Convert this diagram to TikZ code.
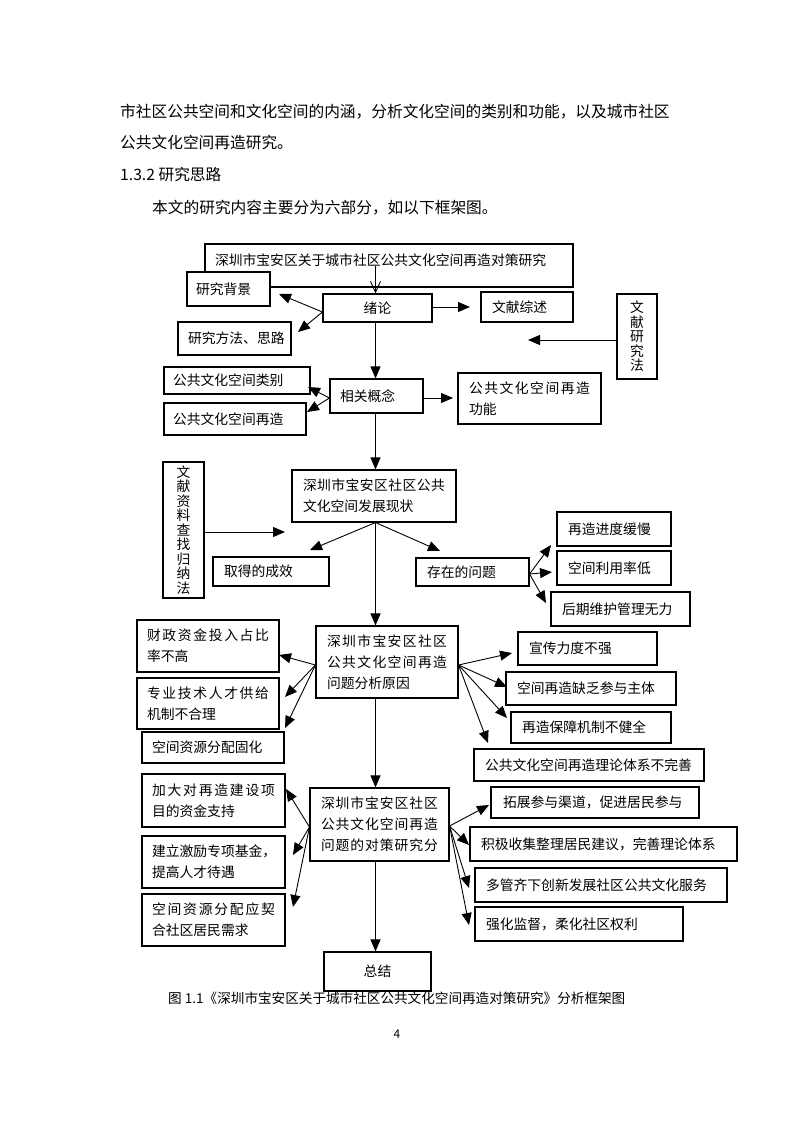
\documentclass[tikz,border=0pt]{standalone}
\usepackage{fontspec}
\newfontfamily\cjk{Noto Sans CJK SC}
\usetikzlibrary{arrows.meta}
\let\spreadend\relax
\def\spreadline#1{\leavevmode\hbox to\hsize{\spreadfirst#1\spreadend}}
\def\spreadfirst#1{#1\spreadloop}
\def\spreadloop#1{\ifx#1\spreadend\else\hfil#1\expandafter\spreadloop\fi}
\newcommand\dgf{\cjk\fontsize{13.8}{21}\selectfont}
\newcommand\vtf{\cjk\fontsize{13.8}{14.5}\selectfont}
\newcommand\bodyf{\cjk\fontsize{15.7}{20}\selectfont}
\newcommand\capf{\cjk\fontsize{13.6}{16}\selectfont}
\tikzset{
  box/.style={draw, line width=1.1pt, fill=white, align=left, font=\dgf, inner ysep=0pt},
  arr/.style={-{Triangle[length=12pt,width=10pt]}, line width=0.9pt},
  barb/.style={-{Straight Barb[length=11pt,width=10pt]}, line width=0.9pt},
  txt/.style={anchor=west, inner sep=0pt, font=\bodyf},
}
\newcommand\bx[7][10]{\node[box, inner xsep=#1pt, text width={#5-#3-2*#1}, minimum width={#5-#3}, minimum height={#6-#4}] (#2) at ({(#3+#5)/2},{(#4+#6)/2}) {#7};}
\newcommand\cbx[7][]{\node[box, align=center, inner xsep=0pt, #1, minimum width={#5-#3}, minimum height={#6-#4}] (#2) at ({(#3+#5)/2},{(#4+#6)/2}) {#7};}
\begin{document}
\begin{tikzpicture}[x=1pt,y=-1pt]
\useasboundingbox[fill=white] (0,0) rectangle (793,1122);
% body text
\node[txt] (l1) at (120,112) {市社区公共空间和文化空间的内涵，分析文化空间的类别和功能，以及城市社区};
\node[txt] (l2) at (120,143) {公共文化空间再造研究。};
\node[txt] (l3) at (120,175) {1.3.2 研究思路};
\node[txt] (l4) at (152,208) {本文的研究内容主要分为六部分，如以下框架图。};
% boxes
\bx{title}{205}{244}{573}{287}{\raisebox{5pt}[\height][\depth]{深圳市宝安区关于城市社区公共文化空间再造对策研究}}
\bx[9]{bg}{187}{272}{270}{306}{研究背景}
\cbx{xl}{323}{294}{432}{322}{绪论}
\bx[11]{wxzs}{481}{292}{573}{322}{文献综述}
\bx{ff}{178}{322}{291}{355}{研究方法、思路}
\cbx[font=\vtf]{wxyjf}{617}{294}{657}{379}{文\\献\\研\\究\\法}
\bx[9]{lb}{164}{367}{310}{394}{公共文化空间类别}
\bx[9]{zz}{164}{403}{306}{435}{公共文化空间再造}
\bx{xg}{330}{379}{423}{413}{相关概念}
\bx[11]{gn}{458}{373}{601}{424}{\spreadline{公共文化空间再造}\\功能}
\cbx[font=\vtf]{wxzl}{163}{462}{204}{598}{文\\献\\资\\料\\查\\找\\归\\纳\\法}
\bx[11]{xz}{292}{470}{456}{522}{\spreadline{深圳市宝安区社区公共}\\文化空间发展现状}
\bx[11]{cx}{213}{557}{329}{586}{取得的成效}
\bx[11]{wt}{416}{558}{529}{586}{存在的问题}
\bx[11]{p1}{557}{512}{671}{546}{再造进度缓慢}
\bx[11]{p2}{557}{551}{671}{585}{空间利用率低}
\bx[11]{p3}{551}{592}{690}{626}{后期维护管理无力}
\bx[11]{yy}{316}{626}{458}{698}{\spreadline{深圳市宝安区社区}\\\spreadline{公共文化空间再造}\\问题分析原因}
\bx{r1}{137}{620}{279}{672}{\spreadline{财政资金投入占比}\\率不高}
\bx{r2}{137}{678}{279}{729}{\spreadline{专业技术人才供给}\\机制不合理}
\bx{r3}{142}{732}{284}{763}{空间资源分配固化}
\bx[11]{q1}{518}{632}{657}{665}{宣传力度不强}
\bx[11]{q2}{506}{672}{676}{705}{空间再造缺乏参与主体}
\bx[11]{q3}{511}{712}{671}{743}{再造保障机制不健全}
\bx[11]{q4}{474}{749}{704}{781}{公共文化空间再造理论体系不完善}
\bx[11]{dc}{310}{788}{449}{861}{\spreadline{深圳市宝安区社区}\\\spreadline{公共文化空间再造}\\\spreadline{问题的对策研究分}}
\bx{s1}{142}{774}{285}{827}{\spreadline{加大对再造建设项}\\目的资金支持}
\bx{s2}{142}{836}{285}{888}{建立激励专项基金，\\提高人才待遇}
\bx{s3}{142}{894}{285}{946}{\spreadline{空间资源分配应契}\\合社区居民需求}
\bx[12]{t1}{491}{787}{699}{818}{拓展参与渠道，促进居民参与}
\bx[11]{t2}{470}{827}{737}{861}{积极收集整理居民建议，完善理论体系}
\bx[11]{t3}{475}{868}{727}{902}{多管齐下创新发展社区公共文化服务}
\bx[11]{t4}{475}{907}{683}{941}{强化监督，柔化社区权利}
\cbx{zj}{324}{952}{431}{991}{总结}
% caption and page number
\node[txt, font=\capf] (cap) at (168,998) {图 1.1《深圳市宝安区关于城市社区公共文化空间再造对策研究》分析框架图};
\node[inner sep=0pt, font=\cjk\fontsize{12}{14}\selectfont] (pg) at (397,1034) {4};
% coordinates
\coordinate (spine) at (375.5,0);
\coordinate (t-bg) at (279,294);
\coordinate (t-ff) at (298,332);
\coordinate (t-wxzs) at (470,307);
\coordinate (t-wxyjf) at (528,340);
\coordinate (t-lb) at (308,387);
\coordinate (t-zz) at (307,412);
\coordinate (t-gn) at (453,398);
\coordinate (t-wxzl) at (285,532);
\coordinate (t-cx) at (310,550);
\coordinate (t-wt) at (440,551);
\coordinate (t-p1) at (551,545);
\coordinate (t-p2) at (552,572);
\coordinate (t-p3) at (546,603);
\coordinate (t-r1) at (279,655);
\coordinate (t-r2) at (285,697);
\coordinate (t-r3) at (285,728);
\coordinate (t-q1) at (512,653);
\coordinate (t-q2) at (507,687);
\coordinate (t-q3) at (507,718);
\coordinate (t-q4) at (488,743);
\coordinate (t-s1) at (286,789);
\coordinate (t-s2) at (293,855);
\coordinate (t-s3) at (293,907);
\coordinate (t-t1) at (489,805);
\coordinate (t-t2) at (469,845);
\coordinate (t-t3) at (469,888);
\coordinate (t-t4) at (469,925);
% spine
\draw[barb] (title.center -| spine) -- (xl.north -| spine);
\draw[arr] (xl.south -| spine) -- (xg.north -| spine);
\draw[arr] (xg.south -| spine) -- (xz.north -| spine);
\draw[arr] (xz.south -| spine) -- (yy.north -| spine);
\draw[arr] (yy.south -| spine) -- (dc.north -| spine);
\draw[arr] (dc.south -| spine) -- (zj.north -| spine);
% branches
\draw[arr] ([yshift=-4pt]xl.west) -- (t-bg);
\draw[arr] ([yshift=-4pt]xl.west) -- (t-ff);
\draw[arr] ([yshift=1pt]xl.east) -- (t-wxzs);
\draw[arr] ([yshift=-3.5pt]wxyjf.west) -- (t-wxyjf);
\draw[arr] ([yshift=-2pt]xg.west) -- (t-lb);
\draw[arr] ([yshift=-2pt]xg.west) -- (t-zz);
\draw[arr] ([yshift=-2pt]xg.east) -- (t-gn);
\draw[arr] ([yshift=-2pt]wxzl.east) -- (t-wxzl);
\draw[arr] (xz.south -| spine) -- (t-cx);
\draw[arr] (xz.south -| spine) -- (t-wt);
\draw[arr] ([yshift=-2pt]wt.east) -- (t-p1);
\draw[arr] ([yshift=-2pt]wt.east) -- (t-p2);
\draw[arr] ([yshift=-2pt]wt.east) -- (t-p3);
\draw[arr] ([yshift=-3pt]yy.west) -- (t-r1);
\draw[arr] ([yshift=-3pt]yy.west) -- (t-r2);
\draw[arr] ([yshift=-3pt]yy.west) -- (t-r3);
\draw[arr] ([yshift=-3pt]yy.east) -- (t-q1);
\draw[arr] ([yshift=-3pt]yy.east) -- (t-q2);
\draw[arr] ([yshift=-3pt]yy.east) -- (t-q3);
\draw[arr] ([yshift=-3pt]yy.east) -- (t-q4);
\draw[arr] ([yshift=-2.5pt]dc.west) -- (t-s1);
\draw[arr] ([yshift=-2.5pt]dc.west) -- (t-s2);
\draw[arr] ([yshift=-2.5pt]dc.west) -- (t-s3);
\draw[arr] ([yshift=-1.5pt]dc.east) -- (t-t1);
\draw[arr] ([yshift=-1.5pt]dc.east) -- (t-t2);
\draw[arr] ([yshift=-1.5pt]dc.east) -- (t-t3);
\draw[arr] ([yshift=-1.5pt]dc.east) -- (t-t4);
\end{tikzpicture}
\end{document}
